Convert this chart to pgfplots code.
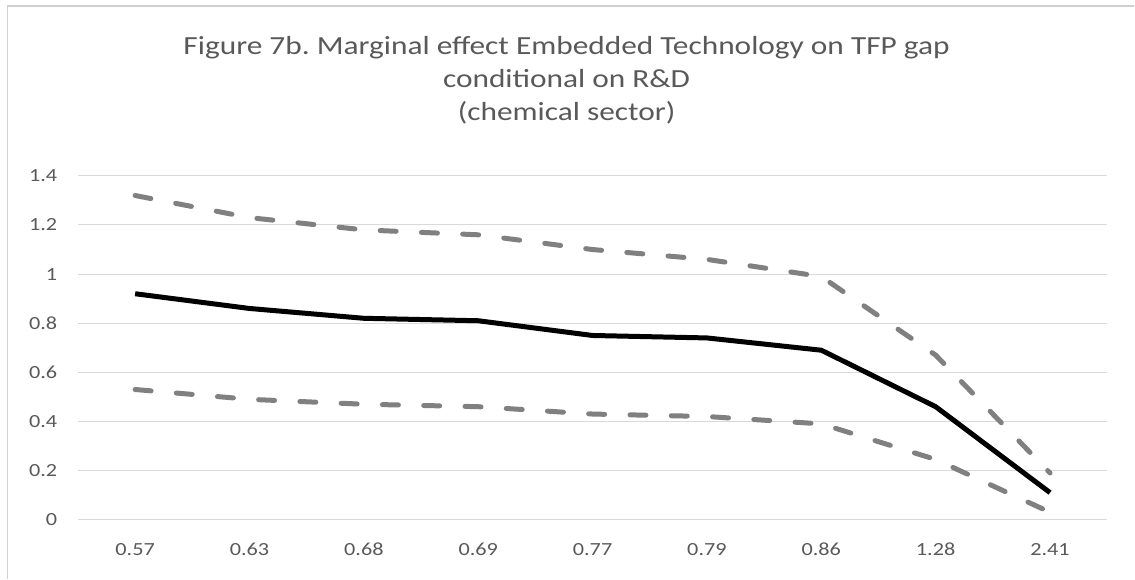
\documentclass[border=0pt]{standalone}
\usepackage{pgfplots}
\pgfplotsset{compat=1.18}
\usepackage{fontspec}
\setmainfont{Carlito}
\newfontfamily\cf[FakeStretch=1.2]{Carlito}
\definecolor{txtgray}{HTML}{595959}
\definecolor{gridgray}{HTML}{D9D9D9}
\definecolor{bordergray}{HTML}{D0D0D0}
\definecolor{dashgray}{HTML}{808080}
\frenchspacing
\begin{document}
\begin{tikzpicture}
\draw[draw=white, line width=0pt] (0,0) rectangle (851.25pt,434.25pt);
\draw[draw=bordergray, line width=1.2pt] (5.6pt,0pt) -- (5.6pt,429.6pt) -- (851.25pt,429.6pt);
\node[align=center, text=txtgray, font=\cf\fontsize{19.6}{24.75}\selectfont] at (425.25pt,374.25pt) {Figure 7b. Marginal effect Embedded Technology on TFP gap\\conditional on R\&D\\(chemical sector)};
\begin{axis}[
  at={(58.5pt,44.25pt)}, anchor=south west,
  scale only axis, width=772.5pt, height=258pt,
  xmin=-0.5, xmax=8.5, ymin=0, ymax=1.4,
  xtick={0,...,8},
  xticklabels={0.57,0.63,0.68,0.69,0.77,0.79,0.86,1.28,2.41},
  ytick={0,0.2,0.4,0.6,0.8,1,1.2,1.4},
  yticklabels={0,0.2,0.4,0.6,0.8,1,1.2,1.4},
  ymajorgrids, major grid style={draw=gridgray, line width=0.75pt},
  axis line style={draw=none},
  major tick length=0pt,
  tick label style={text=txtgray, font=\cf\fontsize{13.9}{16}\selectfont},
  yticklabel style={xshift=-12pt},
  xticklabel style={yshift=-14pt},
  clip=false,
]
\addplot[draw=dashgray, line width=3.75pt, line cap=round, dash pattern=on 12pt off 19pt] coordinates {(0,1.32)(1,1.23)(2,1.18)(3,1.16)(4,1.10)(5,1.06)(6,0.99)(7,0.67)(8,0.19)};
\addplot[draw=dashgray, line width=3.75pt, line cap=round, dash pattern=on 12pt off 19pt] coordinates {(0,0.53)(1,0.49)(2,0.47)(3,0.46)(4,0.43)(5,0.42)(6,0.39)(7,0.245)(8,0.03)};
\addplot[draw=black, line width=3.75pt, line join=round] coordinates {(0,0.92)(1,0.86)(2,0.82)(3,0.81)(4,0.75)(5,0.74)(6,0.69)(7,0.46)(8,0.11)};
\end{axis}
\end{tikzpicture}
\end{document}
